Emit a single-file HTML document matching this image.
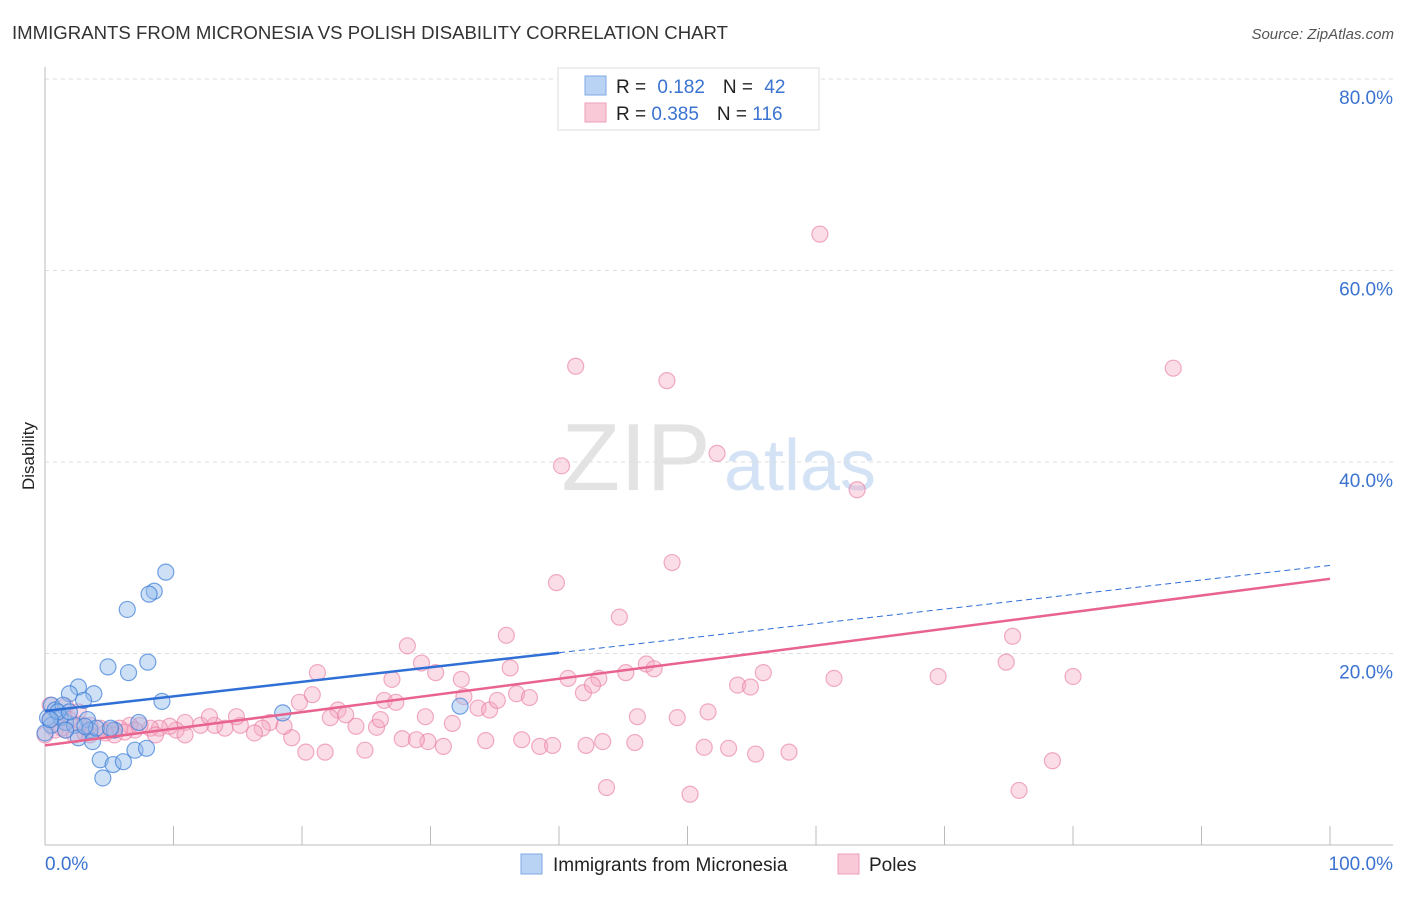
<!DOCTYPE html>
<html><head><meta charset="utf-8"><style>
body{margin:0;background:#fff;font-family:"Liberation Sans",sans-serif}
svg text{font-family:"Liberation Sans",sans-serif}
</style></head><body>
<svg width="1406" height="892" xmlns="http://www.w3.org/2000/svg">
<text x="12" y="39" font-size="18.6" fill="#333">IMMIGRANTS FROM MICRONESIA VS POLISH DISABILITY CORRELATION CHART</text>
<text x="1394" y="39" font-size="15" fill="#555" font-style="italic" text-anchor="end">Source: ZipAtlas.com</text>
<text x="34" y="456" font-size="17" fill="#222" text-anchor="middle" transform="rotate(-90 34 456)">Disability</text>
<g><text x="636" y="490" font-size="96" fill="#ddd" font-family="Liberation Serif" text-anchor="middle" opacity="0.8">ZIP</text><text x="800" y="490" font-size="72" fill="#c9dcf2" text-anchor="middle" opacity="0.8">atlas</text></g>
<g id="grid"></g>
<g id="axes"></g>
<g id="pts"></g>
<g id="lines"></g>
<g>
<rect x="558" y="68" width="261" height="62" fill="#fff" stroke="#ddd"/>
<rect x="585" y="76" width="21" height="19" fill="#b9d3f4" stroke="#7eaae3"/>
<rect x="585" y="103" width="21" height="19" fill="#f9c9d8" stroke="#ee9fba"/>
<text x="616" y="93" font-size="19" fill="#222">R = <tspan fill="#3b73d1" dx="6">0.182</tspan><tspan fill="#222" dx="18">N = </tspan><tspan fill="#3b73d1" dx="6">42</tspan></text>
<text x="616" y="120" font-size="19" fill="#222">R = <tspan fill="#3b73d1">0.385</tspan><tspan fill="#222" dx="18">N = </tspan><tspan fill="#3b73d1">116</tspan></text>
</g>
<g>
<rect x="521" y="854" width="21" height="20" fill="#b9d3f4" stroke="#7eaae3"/>
<text x="553" y="871" font-size="19" fill="#222">Immigrants from Micronesia</text>
<rect x="838" y="854" width="21" height="20" fill="#f9c9d8" stroke="#ee9fba"/>
<text x="869" y="871" font-size="19" fill="#222">Poles</text>
</g>
</svg>
<script>
const blueX=[9.4,8.5,8.1,6.4,4.9,8.0,6.5,9.1,2.6,1.9,3.8,3.0,0.5,0.8,1.4,1.2,0.2,3.3,0.5,1.6,2.3,3.5,2.6,3.7,5.4,4.3,5.3,6.1,4.5,7.0,7.9,7.3,18.5,32.3,1.0,1.9,0,4.0,0.4,1.6,3.1,5.1];
const blueY=[28.5,26.5,26.2,24.6,18.6,19.1,18.0,15.0,16.5,15.8,15.8,15.1,14.6,14.1,14.6,13.3,13.3,13.1,12.5,12.8,12.5,12.0,11.2,10.8,12.0,8.9,8.4,8.7,7.0,9.9,10.1,12.8,13.8,14.5,13.9,13.9,11.7,12.2,13.1,12.0,12.4,12.2];
const pinkX=[60.3,41.3,48.4,87.8,40.2,52.3,63.2,39.8,48.8,44.7,35.9,75.3,28.2,29.3,21.2,27.0,30.4,32.4,36.2,46.8,47.4,43.1,45.2,40.7,41.9,42.6,74.8,69.5,80.0,61.4,55.9,53.9,54.9,19.8,20.8,22.8,23.4,22.2,26.4,27.3,29.6,31.7,32.6,33.7,34.6,35.2,36.7,37.7,29.8,31.0,34.3,37.1,38.5,39.5,42.1,43.4,45.9,46.1,49.2,51.6,51.3,53.2,55.3,57.9,43.7,50.2,75.8,78.4,20.3,21.8,24.9,19.2,27.8,28.9,24.2,25.8,26.1,17.5,16.9,18.6,16.3,15.2,14.0,13.2,12.1,12.8,14.9,10.9,10.2,9.7,8.9,8.2,7.4,6.6,5.8,5.1,4.3,3.5,2.7,1.9,1.2,0.4,0.4,0.8,1.6,2.3,3.1,0,10.9,8.6,7.0,6.2,5.4,1.6,2.6,3.5,4.7,1.3];
const pinkY=[63.8,50.0,48.5,49.8,39.6,40.9,37.1,27.4,29.5,23.8,21.9,21.8,20.8,19.0,18.0,17.3,18.0,17.3,18.5,18.9,18.4,17.4,18.0,17.4,15.9,16.7,19.1,17.6,17.6,17.4,18.0,16.7,16.5,14.9,15.7,14.1,13.6,13.3,15.1,14.9,13.4,12.7,15.5,14.3,14.1,15.1,15.8,15.4,10.8,10.3,10.9,11.0,10.3,10.4,10.4,10.8,10.7,13.4,13.3,13.9,10.2,10.1,9.5,9.7,6.0,5.3,5.7,8.8,9.7,9.7,9.9,11.2,11.1,11.0,12.4,12.3,13.1,12.8,12.2,12.4,11.7,12.5,12.2,12.5,12.5,13.4,13.4,12.8,12.0,12.4,12.2,12.2,12.5,12.5,12.2,12.0,12.2,12.5,12.6,13.1,13.3,14.6,13.1,12.0,12.0,11.5,11.7,11.5,11.5,11.5,12.0,11.8,11.5,14.5,13.9,11.5,11.7,12.2];
const yTicks=[20,40,60,80];
const yTickLabels=["20.0%","40.0%","60.0%","80.0%"];
const xTicks=[0,10,20,30,40,50,60,70,80,90,100];
const blueTrend=[14.0,29.2];
const pinkTrend=[10.4,27.8];
const NS="http://www.w3.org/2000/svg";
const sx=v=>45+v*12.85, sy=v=>845-v*9.575;
function mk(t,a,p){const e=document.createElementNS(NS,t);for(const k in a)e.setAttribute(k,a[k]);p.appendChild(e);return e;}
const grid=document.getElementById('grid'),axes=document.getElementById('axes'),pts=document.getElementById('pts'),lines=document.getElementById('lines');
yTicks.forEach((v,i)=>{
 const l=mk('line',{x1:45,x2:1393,y1:sy(v),y2:sy(v),stroke:'#ddd','stroke-dasharray':'4,4'},grid);
 
 
 const t=mk('text',{x:1393,y:sy(v)+25,'font-size':19,fill:'#3b73d1','text-anchor':'end'},grid);
 t.textContent=yTickLabels[i];
 
 
});
const ax=mk('line',{x1:45,x2:45,y1:67,y2:845,stroke:'#bbb'},axes);


const bx=mk('line',{x1:45,x2:1393,y1:845,y2:845,stroke:'#bbb'},axes);


xTicks.forEach(v=>{
 const t=mk('line',{x1:sx(v),x2:sx(v),y1:826,y2:845,stroke:'#bbb'},axes);
 
 
});
const xl0=mk('text',{x:45,y:870,'font-size':19,fill:'#3b73d1'},axes);xl0.textContent='0.0%';


const xl1=mk('text',{x:1393,y:870,'font-size':19,fill:'#3b73d1','text-anchor':'end'},axes);xl1.textContent='100.0%';


pinkX.forEach((x,i)=>{
 const c=mk('circle',{cx:sx(x),cy:sy(pinkY[i]),r:8,fill:'rgba(245,170,195,0.4)',stroke:'rgba(232,120,160,0.6)','stroke-width':1.2},pts);
 
 
});
blueX.forEach((x,i)=>{
 const c=mk('circle',{cx:sx(x),cy:sy(blueY[i]),r:8,fill:'rgba(147,187,236,0.45)',stroke:'rgba(60,125,215,0.7)','stroke-width':1.2},pts);
 
 
});
const by=x=>blueTrend[0]+(blueTrend[1]-blueTrend[0])*x/100;
const b1=mk('line',{x1:sx(0),y1:sy(by(0)),x2:sx(40),y2:sy(by(40)),stroke:'#2f6fd6','stroke-width':2.5},lines);


const b2=mk('line',{x1:sx(40),y1:sy(by(40)),x2:sx(100),y2:sy(by(100)),stroke:'#2f6fd6','stroke-width':1,'stroke-dasharray':'6,4'},lines);


const p1=mk('line',{x1:sx(0),y1:sy(pinkTrend[0]),x2:sx(100),y2:sy(pinkTrend[1]),stroke:'#e8648f','stroke-width':2.5},lines);


</script>
</body></html>
